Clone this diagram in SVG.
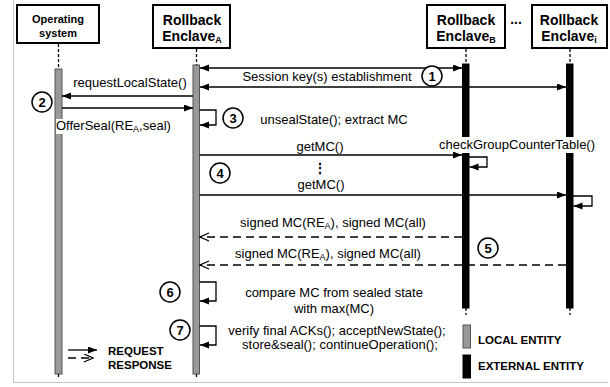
<svg xmlns="http://www.w3.org/2000/svg" width="610" height="387" viewBox="0 0 610 387">
<style>
  text { font-family: "Liberation Sans", Arial, sans-serif; fill: #000; }
  .lbl { font-size: 13px; }
  .mid { text-anchor: middle; }
  .hdr { font-size: 14px; font-weight: bold; text-anchor: middle; }
  .hdrs { font-size: 11px; font-weight: bold; text-anchor: middle; }
  .sub { font-size: 9px; }
  .lsub { font-size: 9px; }
  .leg { font-size: 11.5px; font-weight: bold; }
  .box { fill: #fff; stroke: #000; stroke-width: 2; }
  .life { stroke: #000; stroke-width: 1.3; stroke-dasharray: 3 2; fill: none; }
  .local { fill: #999; stroke: #555; stroke-width: 1; }
  .ext { fill: #000; stroke: #000; stroke-width: 1; }
  .req { stroke: #000; stroke-width: 1.3; fill: none; marker-end: url(#ah); }
  .req2 { stroke: #000; stroke-width: 1.3; fill: none; marker-end: url(#ah); marker-start: url(#ah); }
  .resp { stroke: #000; stroke-width: 1.3; fill: none; stroke-dasharray: 8 5; marker-end: url(#oh); }
  .num circle { fill: #fff; stroke: #000; stroke-width: 1.5; }
  .num text { font-size: 13px; font-weight: bold; text-anchor: middle; }
</style>
<defs>
  <marker id="ah" markerUnits="userSpaceOnUse" markerWidth="10" markerHeight="8" refX="9" refY="3.5" orient="auto-start-reverse">
    <path d="M0,0 L9,3.5 L0,7 z" fill="#000"/>
  </marker>
  <marker id="oh" markerUnits="userSpaceOnUse" markerWidth="12" markerHeight="10" refX="10" refY="4.5" orient="auto">
    <path d="M1,0.5 L10,4.5 L1,8.5" fill="none" stroke="#000" stroke-width="1.3"/>
  </marker>
</defs>

<!-- frame -->
<path d="M13.5,0 V382.5 H608" fill="none" stroke="#c8c8c8" stroke-width="1"/>

<g id="node-os">
  <rect class="box" x="17" y="5" width="82" height="38"/>
  <text class="hdrs" x="58" y="23">Operating</text>
  <text class="hdrs" x="58" y="37">system</text>
  <line class="life" x1="58.5" y1="44" x2="58.5" y2="69"/>
  <rect class="local" x="55" y="69" width="7" height="305"/>
  <line class="life" x1="58.5" y1="374" x2="58.5" y2="379"/>
</g>
<g id="node-ea">
  <rect class="box" x="153" y="5" width="77" height="43"/>
  <text class="hdr" x="192" y="25">Rollback</text>
  <text class="hdr" x="192" y="41">Enclave<tspan class="sub" dy="1.5">A</tspan></text>
  <line class="life" x1="196.5" y1="49" x2="196.5" y2="65"/>
  <rect class="local" x="193" y="65" width="6.5" height="309"/>
  <line class="life" x1="196.5" y1="374" x2="196.5" y2="379"/>
</g>
<g id="node-eb">
  <rect class="box" x="427" y="5" width="78" height="43"/>
  <text class="hdr" x="466" y="25">Rollback</text>
  <text class="hdr" x="466" y="41">Enclave<tspan class="sub" dy="1.5">B</tspan></text>
  <line class="life" x1="466" y1="49" x2="466" y2="64"/>
  <rect class="ext" x="462.5" y="64" width="6.5" height="244"/>
  <line class="life" x1="466" y1="308" x2="466" y2="315"/>
</g>
<text x="516" y="24" font-size="14" font-weight="bold" text-anchor="middle">...</text>
<g id="node-ei">
  <rect class="box" x="532" y="5" width="75" height="43"/>
  <text class="hdr" x="569" y="25">Rollback</text>
  <text class="hdr" x="569" y="41">Enclave<tspan class="sub" dy="1.5">i</tspan></text>
  <line class="life" x1="570" y1="49" x2="570" y2="64"/>
  <rect class="ext" x="566.5" y="64" width="6.5" height="244"/>
  <line class="life" x1="570" y1="308" x2="570" y2="315"/>
</g>

<!-- labels with white background -->
<rect x="56" y="119" width="95" height="15" fill="#fff"/>
<text class="lbl" x="56" y="130">OfferSeal(RE<tspan class="lsub" dy="2">A</tspan><tspan dy="-2">,seal)</tspan></text>
<rect x="436" y="137" width="163" height="16" fill="#fff"/>
<text class="lbl mid" x="517" y="149">checkGroupCounterTable()</text>

<g id="connectors">
  <line class="req2" x1="200" y1="68" x2="462" y2="68"/>
  <line class="req2" x1="200" y1="87" x2="566" y2="87"/>
  <line class="req" x1="193" y1="96" x2="62" y2="96"/>
  <line class="req" x1="62" y1="108" x2="193" y2="108"/>
  <polyline class="req" points="199.5,110 216,110 216,125 200,125"/>
  <line class="req" x1="199.5" y1="155" x2="462" y2="155"/>
  <polyline class="req" points="469,157 487,157 487,167 469.5,167"/>
  <line class="req" x1="199.5" y1="195" x2="566" y2="195"/>
  <polyline class="req" points="573,196 592,196 592,206 573.5,206"/>
  <line class="resp" x1="462" y1="237" x2="200" y2="237"/>
  <line class="resp" x1="566" y1="265" x2="200" y2="265"/>
  <polyline class="req" points="199.5,282 216,282 216,301 200,301"/>
  <polyline class="req" points="199.5,326 216,326 216,345 200,345"/>
</g>

<text class="lbl mid" x="327" y="81">Session key(s) establishment</text>
<text class="lbl mid" x="130" y="87">requestLocalState()</text>
<text class="lbl mid" x="334" y="124">unsealState(); extract MC</text>
<text class="lbl mid" x="320" y="151">getMC()</text>
<text x="320" y="173" font-size="14" font-weight="bold" text-anchor="middle">⋮</text>
<text class="lbl mid" x="321" y="189">getMC()</text>
<text class="lbl mid" x="333" y="227">signed MC(RE<tspan class="lsub" dy="2">A</tspan><tspan dy="-2">), signed MC(all)</tspan></text>
<text class="lbl mid" x="328" y="258">signed MC(RE<tspan class="lsub" dy="2">A</tspan><tspan dy="-2">), signed MC(all)</tspan></text>
<text class="lbl mid" x="334" y="297">compare MC from sealed state</text>
<text class="lbl mid" x="334" y="313">with max(MC)</text>
<text class="lbl mid" x="337" y="335">verify final ACKs(); acceptNewState();</text>
<text class="lbl mid" x="340" y="349">store&amp;seal(); continueOperation();</text>

<g class="num" id="step1"><circle cx="432" cy="76" r="10"/><text x="432" y="80.5">1</text></g>
<g class="num" id="step2"><circle cx="42" cy="102" r="10"/><text x="42" y="106.5">2</text></g>
<g class="num" id="step3"><circle cx="233" cy="118" r="10"/><text x="233" y="122.5">3</text></g>
<g class="num" id="step4"><circle cx="220" cy="173" r="10"/><text x="220" y="177.5">4</text></g>
<g class="num" id="step5"><circle cx="488" cy="248" r="10"/><text x="488" y="252.5">5</text></g>
<g class="num" id="step6"><circle cx="170" cy="292" r="10"/><text x="170" y="296.5">6</text></g>
<g class="num" id="step7"><circle cx="180" cy="330" r="10"/><text x="180" y="334.5">7</text></g>

<g id="legend">
  <line class="req" x1="68" y1="350" x2="97" y2="350"/>
  <line class="resp" x1="68" y1="358" x2="93" y2="358" stroke-dasharray="8 30"/>
  <text class="leg" x="108" y="355">REQUEST</text>
  <text class="leg" x="108" y="369">RESPONSE</text>
  <rect class="local" x="463" y="325" width="7.5" height="23"/>
  <text class="leg" x="478" y="344">LOCAL ENTITY</text>
  <rect class="ext" x="463" y="355" width="7.5" height="23"/>
  <text class="leg" x="478" y="370">EXTERNAL ENTITY</text>
</g>
</svg>
